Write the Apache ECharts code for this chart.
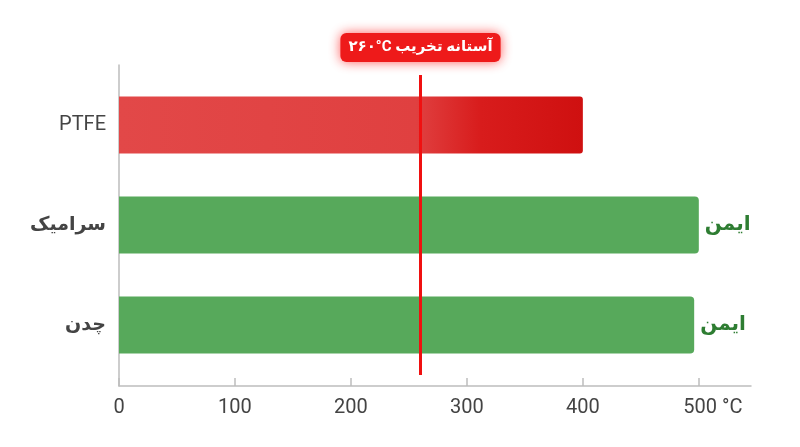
<!DOCTYPE html>
<html><head><meta charset="utf-8">
<script src="https://cdn.jsdelivr.net/npm/echarts@6/dist/echarts.min.js"></script>
<style>html,body{margin:0;padding:0;background:#fff}#c{width:800px;height:447px}</style>
</head><body><div id="c"></div>
<script>
const categories = ['PTFE', 'سرامیک', 'چدن'];
const maxTemps = [400, 500, 496];
const statusLabels = ['', 'ایمن', 'ایمن'];
const xTicks = [0, 100, 200, 300, 400, 500];
const xUnit = '°C';
const xMax = 545;
const thresholdTemp = 260;
const thresholdWords = 'آستانه تخریب';
const thresholdValueText = '۲۶۰°C';

const FONT = 'Roboto, "Noto Sans", "DejaVu Sans", sans-serif';
const axisColor = '#bdbdbd';
const lineRed = '#f01010';
const ptfeGradient = new echarts.graphic.LinearGradient(0, 0, 1, 0, [
  { offset: 0, color: '#e24848' },
  { offset: 0.64, color: '#e04040' },
  { offset: 0.78, color: '#d81c1c' },
  { offset: 1, color: '#cf1010' }
]);

const barData = maxTemps.map((v, i) => ({
  value: v,
  itemStyle: i === 0
    ? { color: ptfeGradient, borderRadius: [0, 3, 3, 0] }
    : { color: '#57a95b', borderRadius: [0, 4, 4, 0] },
  label: { show: !!statusLabels[i], formatter: statusLabels[i] }
}));

const chart = echarts.init(document.getElementById('c'));
chart.setOption({
  animation: false,
  textStyle: { fontFamily: FONT },
  grid: [
    { left: 119, right: 49, top: 75, bottom: 72 },
    { left: 119, right: 49, top: 65, bottom: 61 }
  ],
  xAxis: [
    {
      gridIndex: 0, type: 'value', min: 0, max: xMax, offset: 11,
      axisLine: { show: true, lineStyle: { color: axisColor, width: 1.5 } },
      axisTick: { show: true, inside: true, length: 8, customValues: xTicks, lineStyle: { color: axisColor, width: 1.5 } },
      splitLine: { show: false },
      axisLabel: {
        customValues: xTicks, margin: 12, fontSize: 20, color: '#444', fontFamily: FONT,
        formatter: v => v === xTicks[xTicks.length - 1] ? '{p|}' + v + ' ' + xUnit : String(v),
        rich: { p: { width: 28 } }
      }
    },
    { gridIndex: 1, type: 'value', min: 0, max: 1, show: false }
  ],
  yAxis: [
    {
      gridIndex: 0, type: 'category', data: categories, inverse: true,
      axisLine: { show: false }, axisTick: { show: false },
      axisLabel: {
        margin: 13,
        formatter: v => /^[A-Za-z]/.test(v) ? '{n|' + v + '}' : '{b|' + v + '}',
        rich: {
          n: { fontSize: 20, color: '#444', fontFamily: FONT },
          b: { fontSize: 19, fontWeight: 'bold', color: '#444', fontFamily: FONT }
        }
      }
    },
    {
      gridIndex: 1, type: 'value', min: 0, max: 1,
      axisLine: { show: true, lineStyle: { color: axisColor, width: 1.5 } },
      axisTick: { show: false }, axisLabel: { show: false }, splitLine: { show: false }
    }
  ],
  series: [
    {
      type: 'bar', xAxisIndex: 0, yAxisIndex: 0, barWidth: 57,
      data: barData, z: 2,
      label: { position: 'right', distance: 6, color: '#2e7d32', fontWeight: 'bold', fontSize: 20, fontFamily: FONT },
      emphasis: { disabled: true }
    },
    {
      type: 'line', xAxisIndex: 0, yAxisIndex: 0, data: [], z: 5,
      color: lineRed,
      markLine: {
        silent: true, symbol: ['none', 'none'], z: 5,
        lineStyle: { color: lineRed, width: 3, type: 'solid', opacity: 1 },
        emphasis: { disabled: true },
        label: {
          position: 'start', distance: 13,
          formatter: '\u202B' + thresholdWords + ' \u2066' + thresholdValueText + '\u2069\u202C',
          backgroundColor: '#ee1a1a', color: '#fff', fontWeight: 'bold', fontSize: 15, lineHeight: 17,
          fontFamily: FONT, padding: [6, 8], borderRadius: 6,
          shadowBlur: 12, shadowColor: 'rgba(255,20,20,0.7)'
        },
        data: [{ xAxis: thresholdTemp, lineStyle: { color: lineRed, width: 3 } }]
      }
    }
  ]
});
</script></body></html>
